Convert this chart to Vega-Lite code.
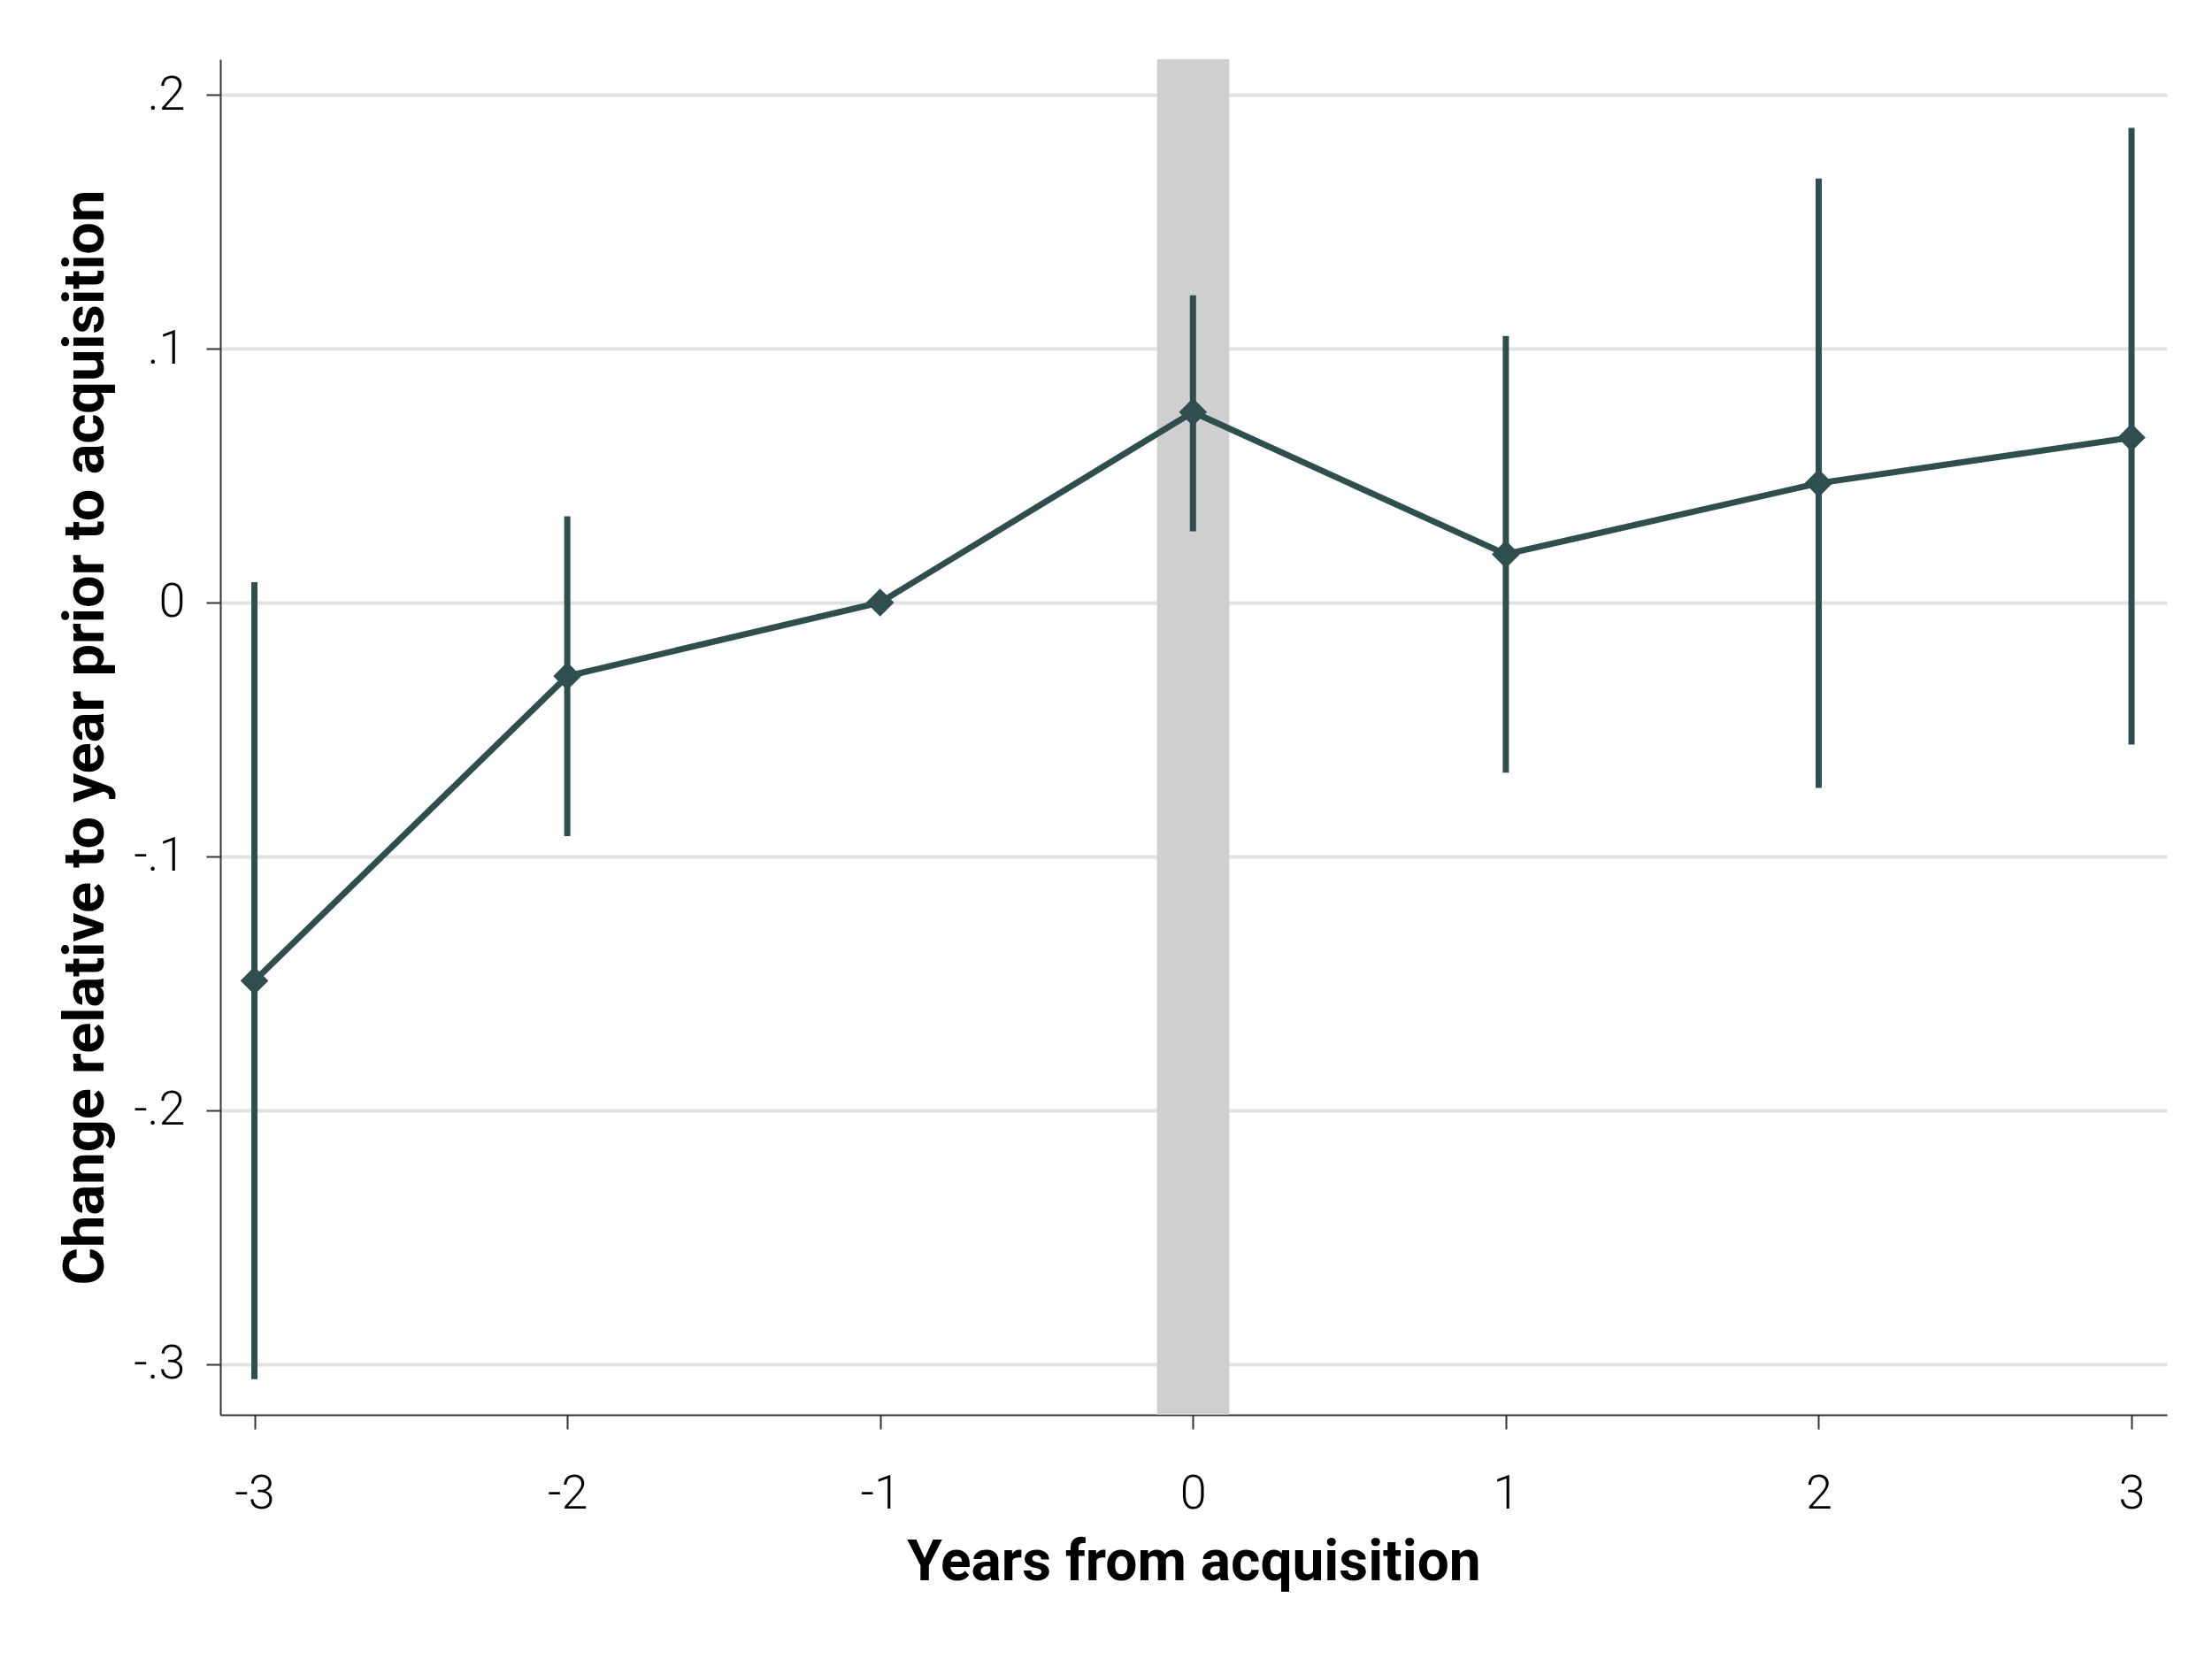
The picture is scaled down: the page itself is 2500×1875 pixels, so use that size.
{
  "$schema": "https://vega.github.io/schema/vega-lite/v6.json",
  "autosize": "none",
  "width": 2200,
  "height": 1532,
  "padding": {"left": 249, "top": 67, "right": 51, "bottom": 276},
  "background": "white",
  "config": {"view": {"stroke": null}, "font": "Roboto"},
  "datasets": {
    "est": [
      {"year": -3, "coef": -0.149, "lo": -0.306, "hi": 0.008},
      {"year": -2, "coef": -0.029, "lo": -0.092, "hi": 0.034},
      {"year": -1, "coef": 0.0, "lo": 0.0, "hi": 0.0},
      {"year": 0, "coef": 0.075, "lo": 0.028, "hi": 0.121},
      {"year": 1, "coef": 0.019, "lo": -0.067, "hi": 0.105},
      {"year": 2, "coef": 0.047, "lo": -0.073, "hi": 0.167},
      {"year": 3, "coef": 0.065, "lo": -0.056, "hi": 0.187}
    ],
    "band": [{"x1": -0.115, "x2": 0.116}]
  },
  "layer": [
    {
      "data": {"name": "band"},
      "mark": {"type": "rect", "color": "#cfcfcf"},
      "encoding": {
        "x": {"field": "x1", "type": "quantitative", "scale": {"domain": [-3.109, 3.113], "nice": false, "zero": false}},
        "x2": {"field": "x2"}
      }
    },
    {
      "data": {"name": "est"},
      "mark": {"type": "rule", "color": "#2f4f4f", "strokeWidth": 7},
      "encoding": {
        "x": {"field": "year", "type": "quantitative"},
        "y": {"field": "lo", "type": "quantitative"},
        "y2": {"field": "hi"}
      }
    },
    {
      "data": {"name": "est"},
      "mark": {"type": "line", "color": "#2f4f4f", "strokeWidth": 7},
      "encoding": {
        "x": {"field": "year", "type": "quantitative"},
        "y": {"field": "coef", "type": "quantitative"}
      }
    },
    {
      "data": {"name": "est"},
      "mark": {"type": "point", "shape": "diamond", "filled": true, "color": "#2f4f4f", "opacity": 1, "size": 1000},
      "encoding": {
        "x": {
          "field": "year", "type": "quantitative",
          "scale": {"domain": [-3.109, 3.113], "nice": false, "zero": false},
          "axis": {
            "values": [-3, -2, -1, 0, 1, 2, 3], "format": "d", "grid": false,
            "title": "Years from acquisition", "titleFont": "Roboto", "titleFontWeight": "bold", "titleFontSize": 64, "titleColor": "black",
            "titleY": 186, "titleBaseline": "alphabetic",
            "labelFont": "Roboto", "labelFontWeight": 300, "labelFontSize": 54, "labelColor": "black", "labelPadding": 46,
            "tickSize": 16, "tickWidth": 2, "tickColor": "#333", "domainColor": "#333", "domainWidth": 2,
            "labelExpr": "replace(datum.label, '\u2212', '-')"
          }
        },
        "y": {
          "field": "coef", "type": "quantitative",
          "scale": {"domain": [-0.32, 0.214], "nice": false, "zero": false},
          "axis": {
            "values": [-0.3, -0.2, -0.1, 0, 0.1, 0.2],
            "labelExpr": "datum.value == 0 ? '0' : replace(replace(format(datum.value, '.1f'), '0.', '.'), '\u2212', '-')",
            "grid": true, "gridColor": "#e2e2e2", "gridWidth": 4,
            "title": "Change relative to year prior to acquisition", "titleFont": "Roboto", "titleFontWeight": "bold", "titleFontSize": 65, "titleColor": "black",
            "titleX": -153, "titleBaseline": "middle",
            "labelFont": "Roboto", "labelFontWeight": 300, "labelFontSize": 54, "labelColor": "black", "labelPadding": 24,
            "tickSize": 16, "tickWidth": 2, "tickColor": "#333", "domainColor": "#333", "domainWidth": 2
          }
        }
      }
    }
  ]
}
